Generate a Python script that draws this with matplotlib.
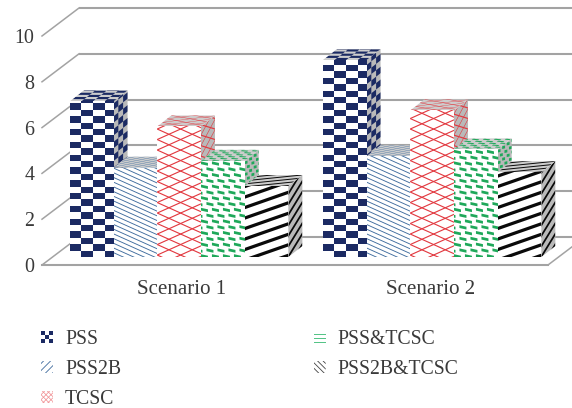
"""Grouped pseudo-3D bar chart of two scenarios with patterned bar faces."""

import matplotlib
matplotlib.use("Agg")
import matplotlib.pyplot as plt
from matplotlib.collections import PolyCollection
from matplotlib.legend_handler import HandlerBase
from matplotlib.patches import Patch, Polygon, Rectangle

categories = ["Scenario 1", "Scenario 2"]
series_names = ["PSS", "PSS2B", "TCSC", "PSS&TCSC", "PSS2B&TCSC"]
pss = [6.8, 8.6]
pss2b = [3.9, 4.4]
tcsc = [5.7, 6.4]
pss_tcsc = [4.2, 4.7]
pss2b_tcsc = [3.1, 3.7]
y_ticks = [0, 2, 4, 6, 8, 10]

NAVY = "#1b2a63"
BLUE = "#3f6c9e"
RED = "#e2383f"
GREEN = "#1fa85a"
BLACK = "#0a0a0a"
GRID = "#a3a3a3"
TEXT = "#3a3a3a"

W, H = 572, 408
PX_X = 2 / 506      # category units per pixel
PX_Y = 10 / 229     # value units per pixel
BAR_W = 43.7
WALL_DX, WALL_DY = 37, 28
BAR_DX, BAR_DY = 14, 11
SHIFT_DX, SHIFT_DY = 10.6, 8
SIDE_LEN = 34


# ---------------------------------------------------------------------------
# Fill patterns, as polygons in a local (s, t) pixel frame
# ---------------------------------------------------------------------------

def checker(w, h, cw=11.6, ch=6.4, parity=1):
    polys = []
    for i in range(int(w / cw) + 1):
        for j in range(int(h / ch) + 1):
            if (i + j) % 2 == parity:
                s, t = i * cw, j * ch
                polys.append([(s, t), (s + cw, t), (s + cw, t + ch), (s, t + ch)])
    return polys


def stripes(w, h, slope, period, thick):
    polys = []
    t0 = -abs(slope) * w - period
    while t0 < h + abs(slope) * w + period:
        polys.append([(0, t0), (w, t0 + slope * w),
                      (w, t0 + slope * w + thick), (0, t0 + thick)])
        t0 += period
    return polys


def lattice(w, h, slope=0.45, period=10.5, thick=1.25):
    return stripes(w, h, -slope, period, thick) + stripes(w, h, slope, period, thick)


def bricks(w, h, pitch=11.0, row=5.8, bw=7.0, bh=2.8, slope=-0.22):
    polys = []
    for j in range(int(h / row) + 2):
        s = -pitch + (j % 2) * pitch * 0.5
        while s < w:
            t = j * row
            polys.append([(s, t), (s + bw, t + slope * bw),
                          (s + bw, t + slope * bw + bh), (s, t + bh)])
            s += pitch
    return polys


PATTERNS = [
    (NAVY, lambda w, h: checker(w, h)),
    (BLUE, lambda w, h: stripes(w, h, -0.45, 4.7, 1.0)),
    (RED, lambda w, h: lattice(w, h)),
    (GREEN, lambda w, h: bricks(w, h)),
    (BLACK, lambda w, h: stripes(w, h, 0.35, 10.5, 3.4)),
]

# Legend keys use a coarser version of the same fills
SWATCHES = [
    (NAVY, lambda w, h: checker(w, h, 4.0, 4.0, 0)),
    (BLUE, lambda w, h: stripes(w, h, 1.0, 7.0, 1.2)),
    ("#f08a8d", lambda w, h: lattice(w, h, 1.0, 5.0, 1.0)),
    ("#55c487", lambda w, h: stripes(w, h, 0.0, 4.0, 1.0)),
    ("#444444", lambda w, h: stripes(w, h, -1.0, 5.5, 1.2)),
]


def draw_face(ax, origin, u, v, w, h, fill, color, make_polys, zorder):
    """Fill the parallelogram origin + s*u + t*v, 0 <= s <= w, 0 <= t <= h."""

    def to_data(s, t):
        return ((origin[0] + s * u[0] + t * v[0]) * PX_X,
                (origin[1] + s * u[1] + t * v[1]) * PX_Y)

    outline = [to_data(0, 0), to_data(w, 0), to_data(w, h), to_data(0, h)]
    face = Polygon(outline, closed=True, facecolor=fill, edgecolor="none",
                   transform=ax.transData, clip_on=False, zorder=zorder)
    ax.add_patch(face)
    polys = [[to_data(s, t) for s, t in p] for p in make_polys(w, h)]
    coll = PolyCollection(polys, facecolors=color, edgecolors="none",
                          transform=ax.transData, zorder=zorder)
    coll.set_clip_path(face)
    ax.add_collection(coll, autolim=False)


def draw_bar(ax, x0, value, color, make_polys, zorder):
    base = SHIFT_DY
    height = value / PX_Y
    x1 = x0 + BAR_W
    top = base + height
    # side, top, front: the next bar's front then hides what lies behind it
    draw_face(ax, (x1, base), (BAR_DX / SIDE_LEN, BAR_DY / SIDE_LEN), (0, 1),
              SIDE_LEN, height, "#b9b9b9", color, make_polys, zorder)
    draw_face(ax, (x0, top), (1, 0), (BAR_DX / 33, BAR_DY / 33), BAR_W, 33,
              "#cdcdcd", color, make_polys, zorder + 0.1)
    draw_face(ax, (x0, base), (1, 0), (0, 1), BAR_W, height,
              "white", color, make_polys, zorder + 0.2)


class SwatchHandler(HandlerBase):
    def __init__(self, swatch):
        super().__init__()
        self.swatch = swatch

    def create_artists(self, legend, orig_handle, xdescent, ydescent, width,
                       height, fontsize, trans):
        color, make_polys = self.swatch
        # legend boxes work in points, the fills in pixels
        scale = 0.72
        size = 12 * scale
        x0, y0 = -xdescent, -ydescent + (height - size) / 2
        polys = [[(x0 + s * scale, y0 + t * scale) for s, t in p]
                 for p in make_polys(12, 12)]
        clip = Rectangle((x0, y0), size, size, transform=trans)
        coll = PolyCollection(polys, facecolors=color, edgecolors="none",
                              transform=trans)
        coll.set_clip_path(clip)
        return [coll]


plt.rcParams["font.family"] = ["Liberation Serif", "DejaVu Serif"]

fig = plt.figure(figsize=(W / 100, H / 100), dpi=100)
ax = fig.add_axes([42 / W, (H - 265) / H, 506 / W, 229 / H])
ax.set_xlim(0, 2)
ax.set_ylim(0, 10)
for spine in ax.spines.values():
    spine.set_visible(False)

# Back wall gridlines and the slanted lines down to the front edge
wall_x = WALL_DX * PX_X
wall_y = WALL_DY * PX_Y
for tick in y_ticks:
    ax.plot([wall_x, 2 + wall_x], [tick + wall_y] * 2, color=GRID, lw=1.5,
            clip_on=False, zorder=1, solid_capstyle="butt")
    ax.plot([0, wall_x], [tick, tick + wall_y], color=GRID, lw=1.1,
            clip_on=False, zorder=1)

# Floor outline
ax.plot([0, 2], [0, 0], color=GRID, lw=1.5, clip_on=False, zorder=1)
ax.plot([2, 2 + wall_x], [0, wall_y], color=GRID, lw=1.1, clip_on=False, zorder=1)

all_values = [pss, pss2b, tcsc, pss_tcsc, pss2b_tcsc]
for c in range(len(categories)):
    start = (c + 0.5) / PX_X - 2.5 * BAR_W + SHIFT_DX
    for i, values in enumerate(all_values):
        color, make_polys = PATTERNS[i]
        draw_bar(ax, start + i * BAR_W, values[c], color, make_polys, 3 + c + i * 0.3)

ax.set_yticks(y_ticks)
ax.set_yticklabels([str(t) for t in y_ticks], fontsize=14.4, color=TEXT)
ax.set_xticks([0.55, 1.535])
ax.set_xticklabels(categories, fontsize=15.1, color=TEXT)
ax.tick_params(axis="both", length=0)
ax.tick_params(axis="y", pad=5.5)
ax.tick_params(axis="x", pad=11)

handles = [Patch(label=name) for name in series_names]
handler_map = {h: SwatchHandler(s) for h, s in zip(handles, SWATCHES)}
leg = fig.legend(handles=handles, handler_map=handler_map, ncol=2, frameon=False,
                 loc="upper left", bbox_to_anchor=(41 / W, 1 - 330 / H),
                 fontsize=14.2, labelcolor=TEXT, borderpad=0, borderaxespad=0,
                 handlelength=0.6, handleheight=0.7, handletextpad=0.62,
                 columnspacing=9.76, labelspacing=0.56)

fig.savefig("out.png", dpi=100)
